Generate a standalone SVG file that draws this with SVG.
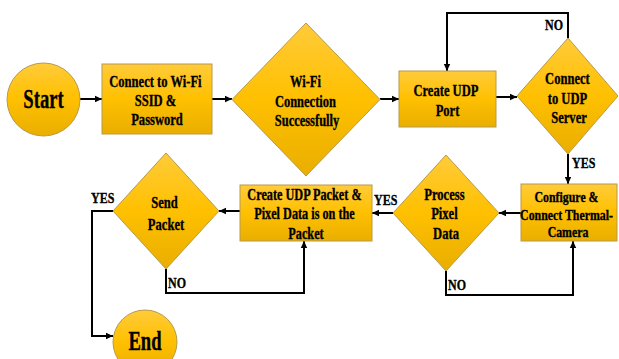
<svg xmlns="http://www.w3.org/2000/svg" width="619" height="359" viewBox="0 0 619 359">
  <defs>
    <linearGradient id="gold" x1="0" y1="0" x2="0" y2="1">
      <stop offset="0" stop-color="#FFCB3A"/>
      <stop offset="0.5" stop-color="#FFC000"/>
      <stop offset="1" stop-color="#E9AE00"/>
    </linearGradient>
    <marker id="arrow" markerUnits="userSpaceOnUse" markerWidth="8" markerHeight="8" refX="7" refY="4" orient="auto">
      <path d="M0,0.8 L7,4 L0,7.2 z" fill="#000"/>
    </marker>
    <style>
      .shape { fill: url(#gold); stroke: #B79A4A; stroke-width: 1; }
      .conn { fill: none; stroke: #000; stroke-width: 2; }
      .arr { marker-end: url(#arrow); }
      text { font-family: "Liberation Serif", "Times New Roman", serif; font-weight: bold; fill: #000; stroke: #000; stroke-width: 0.35; text-anchor: middle; }
      .t17 { font-size: 17px; }
      .t15 { font-size: 15px; }
      .lbl { font-size: 15px; text-anchor: start; }
    </style>
  </defs>

  <!-- connectors -->
  <g id="connectors">
    <path class="conn arr" d="M80,99 H102"/>
    <path class="conn arr" d="M212,99 H232"/>
    <path class="conn arr" d="M380,99 H399"/>
    <path class="conn arr" d="M496,97 H517"/>
    <path class="conn arr" d="M568,38 V13 H447 V71"/>
    <path class="conn arr" d="M568,154 V184"/>
    <path class="conn arr" d="M521,213 H499"/>
    <path class="conn arr" d="M393,213 H372"/>
    <path class="conn arr" d="M446,271 V295 H573 V241"/>
    <path class="conn arr" d="M240,211 H219"/>
    <path class="conn arr" d="M113,211 H92 V336 H113"/>
    <path class="conn arr" d="M166,269 V293 H304 V241"/>
    <text class="lbl" transform="translate(545,30) scale(0.8,1)">NO</text>
    <text class="lbl" transform="translate(572,168) scale(0.8,1)">YES</text>
    <text class="lbl" transform="translate(374,205) scale(0.8,1)">YES</text>
    <text class="lbl" transform="translate(448,290) scale(0.8,1)">NO</text>
    <text class="lbl" transform="translate(91,203) scale(0.8,1)">YES</text>
    <text class="lbl" transform="translate(168,288) scale(0.8,1)">NO</text>
  </g>

  <g id="start">
    <circle class="shape" cx="43.5" cy="99.5" r="36.5"/>
    <text transform="translate(43.5,108) scale(0.69,1)" style="font-size:27px">Start</text>
  </g>

  <g id="connect-wifi">
    <rect class="shape" x="102" y="64" width="110" height="70"/>
    <text class="t17" transform="translate(157,87) scale(0.74,1)">
      <tspan x="0" y="0">Connect to Wi-Fi</tspan>
      <tspan x="0" y="19">SSID &amp;</tspan>
      <tspan x="0" y="38">Password</tspan>
    </text>
  </g>

  <g id="wifi-check">
    <polygon class="shape" points="232,99.5 306,23 380,99.5 306,176"/>
    <text class="t17" transform="translate(307,87) scale(0.735,1)">
      <tspan x="0" y="0">Wi-Fi</tspan>
      <tspan x="0" y="20">Connection</tspan>
      <tspan x="0" y="39">Successfully</tspan>
    </text>
  </g>

  <g id="create-udp-port">
    <rect class="shape" x="399" y="71" width="97" height="56"/>
    <text class="t17" transform="translate(447.5,96) scale(0.74,1)">
      <tspan x="0" y="0">Create UDP</tspan>
      <tspan x="0" y="20">Port</tspan>
    </text>
  </g>

  <g id="connect-udp-server">
    <polygon class="shape" points="517,96 568,38 618,96 568,154"/>
    <text class="t17" transform="translate(569,84) scale(0.74,1)">
      <tspan x="0" y="0">Connect</tspan>
      <tspan x="0" y="20">to UDP</tspan>
      <tspan x="0" y="39">Server</tspan>
    </text>
  </g>

  <g id="configure-camera">
    <rect class="shape" x="521" y="184" width="96" height="57"/>
    <text class="t15" transform="translate(568,202) scale(0.79,1)">
      <tspan x="0" y="0">Configure &amp;</tspan>
      <tspan x="0" y="18">Connect Thermal-</tspan>
      <tspan x="0" y="35">Camera</tspan>
    </text>
  </g>

  <g id="process-pixel-data">
    <polygon class="shape" points="393,213 446,155 499,213 446,271"/>
    <text class="t17" transform="translate(446,200) scale(0.74,1)">
      <tspan x="0" y="0">Process</tspan>
      <tspan x="0" y="19">Pixel</tspan>
      <tspan x="0" y="39">Data</tspan>
    </text>
  </g>

  <g id="create-udp-packet">
    <rect class="shape" x="240" y="185" width="132" height="56"/>
    <text class="t17" transform="translate(306,200) scale(0.72,1)">
      <tspan x="0" y="0">Create UDP Packet &amp;</tspan>
      <tspan x="0" y="19">Pixel Data is on the</tspan>
      <tspan x="0" y="39">Packet</tspan>
    </text>
  </g>

  <g id="send-packet">
    <polygon class="shape" points="113,211 166,153 219,211 166,269"/>
    <text class="t17" transform="translate(166,208) scale(0.74,1)">
      <tspan x="0" y="0">Send</tspan>
      <tspan x="0" y="22">Packet</tspan>
    </text>
  </g>

  <g id="end">
    <ellipse class="shape" cx="145" cy="342" rx="32" ry="32"/>
    <text transform="translate(145,350) scale(0.69,1)" style="font-size:27px">End</text>
  </g>
</svg>
